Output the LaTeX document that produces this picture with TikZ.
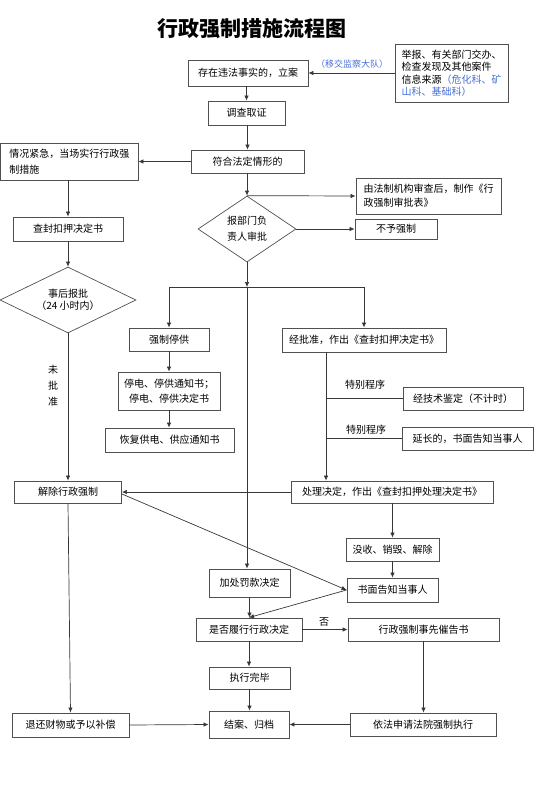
\documentclass[tikz,border=0pt]{standalone}
\usepackage{fontspec}
\setmainfont{Noto Sans CJK SC}
\usetikzlibrary{arrows.meta,shapes.geometric}
\definecolor{lncol}{RGB}{55,55,55}
\definecolor{bdcol}{RGB}{80,80,80}
\definecolor{bluecol}{RGB}{70,110,215}
\begin{document}
\begin{tikzpicture}[x=1pt,y=-1pt,
  bx/.style={draw=bdcol,line width=0.9pt,inner sep=0pt,font=\fontsize{10}{12.5}\selectfont},
  dm/.style={draw=bdcol,line width=0.7pt,diamond,shape aspect=1.5,inner sep=0pt,align=center},
  arr/.style={draw=lncol,line width=0.7pt,-{Latex[length=5pt,width=4.5pt]}},
  plain/.style={draw=lncol,line width=0.7pt},
  lbl/.style={inner sep=0pt,font=\fontsize{10}{12.5}\selectfont}]
\useasboundingbox (0,0) rectangle (544,805);

\node[inner sep=0pt,font=\fontsize{21}{25}\selectfont\bfseries] (title) at (252,28.5) {行政强制措施流程图};

\node[bx,minimum width=120pt,minimum height=26pt] (lian) at (248,73) {存在违法事实的，立案};
\node[bx,minimum width=113pt,minimum height=58pt,align=left] (src) at (451.5,73) {举报、有关部门交办、\\检查发现及其他案件\\信息来源\textcolor{bluecol}{（危化科、矿}\\\textcolor{bluecol}{山科、基础科）}};
\node[lbl,text=bluecol,font=\fontsize{9}{11}\selectfont] (yijiao) at (352,64) {（移交监察大队）};
\node[bx,minimum width=77pt,minimum height=24pt] (diaocha) at (246.5,113) {调查取证};
\node[bx,minimum width=113pt,minimum height=23pt] (fuhe) at (247.5,161.5) {符合法定情形的};
\node[bx,minimum width=137.5pt,minimum height=37pt,align=left,font=\fontsize{10}{16}\selectfont] (jinji) at (69.25,161.5) {情况紧急，当场实行行政强\\制措施};
\node[bx,minimum width=145pt,minimum height=36pt,align=left,font=\fontsize{10}{14}\selectfont] (fazhi) at (428.5,196) {由法制机构审查后，制作《行\\政强制审批表》};
\node[dm,minimum width=98pt,minimum height=66pt,font=\fontsize{10}{16}\selectfont] (shenpi) at (247,229) {报部门负\\责人审批};
\node[bx,minimum width=82pt,minimum height=20pt] (buyu) at (396,229) {不予强制};
\node[bx,minimum width=110pt,minimum height=24pt] (chafeng) at (68,229) {查封扣押决定书};
\node[dm,minimum width=136pt,minimum height=66pt,font=\fontsize{10}{12.5}\selectfont] (houbao) at (68,300) {事后报批\\（24 小时内）};

\node[bx,minimum width=80pt,minimum height=23pt] (tinggong) at (169,339.5) {强制停供};
\node[bx,minimum width=102pt,minimum height=38pt,align=center,font=\fontsize{10}{15}\selectfont] (tingdian) at (169,391) {停电、停供通知书；\\停电、停供决定书};
\node[bx,minimum width=129pt,minimum height=24pt] (huifu) at (169.5,440) {恢复供电、供应通知书};

\node[bx,minimum width=164pt,minimum height=24pt] (jingpi) at (364,340) {经批准，作出《查封扣押决定书》};
\node[bx,minimum width=120pt,minimum height=23pt] (jishu) at (463,398.5) {经技术鉴定（不计时）};
\node[bx,minimum width=131pt,minimum height=23pt] (yanchang) at (467.5,438.5) {延长的，书面告知当事人};
\node[lbl] (tb1) at (365,385) {特别程序};
\node[lbl] (tb2) at (366,430) {特别程序};
\node[bx,minimum width=202pt,minimum height=22pt] (chuli) at (392,492) {处理决定，作出《查封扣押处理决定书》};
\node[bx,minimum width=107pt,minimum height=22pt] (jiechu) at (68,492) {解除行政强制};
\node[lbl,align=center,font=\fontsize{10}{16}\selectfont] (weipi) at (53,386) {未\\批\\准};

\node[bx,minimum width=93pt,minimum height=23pt] (moshou) at (392.5,549.5) {没收、销毁、解除};
\node[bx,minimum width=91pt,minimum height=24pt] (shumian) at (392.5,590) {书面告知当事人};
\node[bx,minimum width=81pt,minimum height=28pt] (jiafa) at (249.5,583) {加处罚款决定};
\node[bx,minimum width=106pt,minimum height=23pt] (shifou) at (249,629.5) {是否履行行政决定};
\node[bx,minimum width=151pt,minimum height=23pt] (cuigao) at (423.5,629.5) {行政强制事先催告书};
\node[lbl] (fou) at (324,622) {否};
\node[bx,minimum width=81pt,minimum height=22pt] (zhixing) at (249.5,678) {执行完毕};
\node[bx,minimum width=80pt,minimum height=27pt] (jiean) at (249,724.5) {结案、归档};
\node[bx,minimum width=146pt,minimum height=23pt] (yifa) at (423,724.5) {依法申请法院强制执行};
\node[bx,minimum width=117pt,minimum height=24pt] (tuihuan) at (70.5,725) {退还财物或予以补偿};

% connectors
\draw[arr] (src.west) -- (lian.east);
\draw[arr] (lian.south -| diaocha.north) -- (diaocha.north);
\draw[arr] (diaocha.south -| fuhe.north) -- (fuhe.north);
\draw[arr] (fuhe.west) -- (jinji.east);
\draw[arr] (fuhe.south -| shenpi.north) -- (shenpi.north);
\draw[arr] (shenpi.north) -- (fazhi.west);
\draw[arr] (shenpi.east) -- (buyu.west);
\draw[arr] (jinji.south -| chafeng.north) -- (chafeng.north);
\draw[arr] (chafeng.south) -- (houbao.north);
\draw[arr] (houbao.south) -- (jiechu.north);

\coordinate (j1) at (247,287);
\draw[arr] (shenpi.south) -- (j1);
\draw[plain] (tinggong.north |- j1) -- (jingpi.north |- j1);
\draw[arr] (tinggong.north |- j1) -- (tinggong.north);
\draw[arr] (jingpi.north |- j1) -- (jingpi.north);
\draw[arr] (j1) -- (j1 |- jiafa.north);
\draw[arr] (tinggong.south) -- (tingdian.north);
\draw[arr] (tingdian.south) -- (tingdian.south |- huifu.north);

\coordinate (k1) at ([xshift=-38pt]jingpi.south);
\draw[arr] (k1) -- (k1 |- chuli.north);
\draw[plain] (k1 |- jishu.west) -- (jishu.west);
\draw[plain] (k1 |- yanchang.west) -- (yanchang.west);

\draw[arr] (chuli.west) -- (jiechu.east);
\draw[arr] ([yshift=-2pt]jiechu.east) -- (shumian.west);
\draw[arr] (chuli.south -| moshou.north) -- (moshou.north);
\draw[arr] (moshou.south) -- (shumian.north);
\draw[arr] (shumian.west) -- (shifou.north);
\draw[arr] (jiafa.south) -- (jiafa.south |- shifou.north);
\draw[arr] (shifou.east) -- (cuigao.west);
\draw[arr] (shifou.south) -- (shifou.south |- zhixing.north);
\draw[arr] (zhixing.south) -- (zhixing.south |- jiean.north);
\draw[arr] (cuigao.south) -- (cuigao.south |- yifa.north);
\draw[arr] (yifa.west) -- (jiean.east);
\draw[arr] (jiechu.south) -- (tuihuan.north);
\draw[arr] (tuihuan.east) -- (jiean.west);
\end{tikzpicture}
\end{document}
